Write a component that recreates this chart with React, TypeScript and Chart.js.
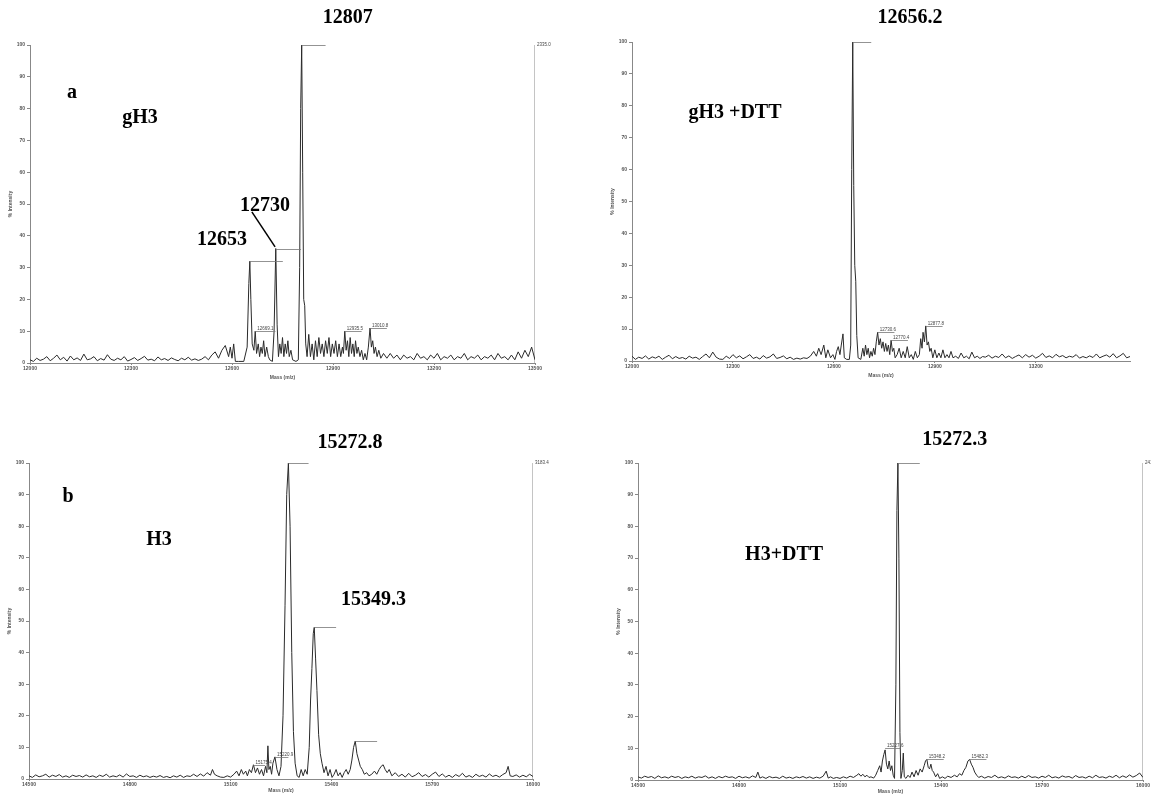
import React, { useEffect, useRef } from 'react';
import { Chart, registerables } from 'chart.js';

Chart.register(...registerables);

type Pt = [number, number];

// ---------- spectra (mass, % intensity) ----------
const spectrumA: Pt[] = [
  [12000,1],[12010,0.5],[12020,1.5],[12030,0.8],[12040,1.2],[12050,2],[12060,0.7],[12070,1.5],[12080,2.5],[12090,1],
  [12100,1.8],[12110,0.6],[12120,2.2],[12130,1],[12140,1.6],[12150,0.8],[12160,2.8],[12170,1],[12180,1.3],[12190,2],
  [12200,0.7],[12210,1.4],[12220,0.9],[12230,2.6],[12240,1.2],[12250,0.8],[12260,1.5],[12270,1],[12280,2],[12290,0.6],
  [12300,1.1],[12310,1.7],[12320,0.8],[12330,1.4],[12340,2.1],[12350,0.9],[12360,1.2],[12370,0.7],[12380,1.9],[12390,1],
  [12400,1.4],[12410,0.8],[12420,1.6],[12430,1.1],[12440,0.7],[12450,1.5],[12460,1],[12470,1.8],[12480,0.9],[12490,1.3],
  [12500,0.8],[12510,1.2],[12520,2],[12530,1],[12540,2.5],[12550,3.5],[12560,1.5],[12570,4],[12580,5.5],[12590,2],
  [12595,5],[12600,1.5],[12605,6],[12610,0.5],[12620,0.5],[12635,0.5],[12645,5],[12650,25],[12653,32],[12656,20],
  [12660,6],[12665,4],[12669,10],[12673,3],[12678,6],[12682,2],[12686,5],[12690,3],[12694,7],[12698,2],
  [12703,5],[12708,2],[12712,1],[12720,0.5],[12725,10],[12730,36],[12734,12],[12738,2],[12742,6],[12746,3],
  [12750,8],[12754,2],[12758,6],[12762,3],[12766,7],[12770,2],[12775,4],[12780,1],[12790,0.5],[12797,1],
  [12801,30],[12804,80],[12807,100],[12810,60],[12813,20],[12816,18],[12819,6],[12823,2],[12828,9],[12833,2],
  [12838,6],[12843,1],[12848,7],[12853,2],[12858,8],[12863,3],[12868,6],[12873,2],[12878,7],[12883,3],
  [12888,8],[12893,2],[12898,6],[12903,3],[12908,7],[12913,2],[12918,6],[12923,2],[12928,5],[12931,3],
  [12935,10],[12939,4],[12943,7],[12947,2],[12951,8],[12955,3],[12959,6],[12963,2],[12967,7],[12971,3],
  [12975,5],[12980,2],[12985,4],[12990,1],[12995,3],[13000,1],[13005,5],[13010,11],[13014,5],[13018,7],
  [13022,3],[13026,5],[13031,2],[13036,4],[13042,1.5],[13050,3],[13060,1.5],[13070,3],[13080,1.5],[13090,2.5],
  [13100,1],[13110,2.5],[13120,1.5],[13130,2],[13140,1],[13150,3],[13160,1.5],[13170,2],[13180,1],[13190,2.5],
  [13200,1.5],[13210,3],[13220,1],[13230,2],[13240,1.5],[13250,2.5],[13260,1],[13270,2],[13280,1.5],[13290,3],
  [13300,1],[13310,2],[13320,1.5],[13330,2.5],[13340,1],[13350,2],[13360,1.5],[13370,2.5],[13380,1],[13390,3],
  [13400,1.5],[13410,2],[13420,1],[13430,2.5],[13440,1],[13450,3.5],[13460,1.5],[13470,4],[13480,2],[13490,5],
  [13500,1],
];

const spectrumC: Pt[] = [
  [12000,1.5],[12010,0.5],[12020,1.2],[12030,0.8],[12040,1.6],[12050,0.6],[12060,1.3],[12070,0.9],[12080,1.5],[12090,0.5],
  [12100,1.2],[12110,1.8],[12120,0.7],[12130,1.4],[12140,0.8],[12150,1.1],[12160,0.6],[12170,1.5],[12180,0.9],[12190,1.2],
  [12200,0.5],[12210,1.4],[12220,2.2],[12230,1],[12240,2.8],[12250,1.2],[12260,0.6],[12270,0.5],[12280,1.5],[12290,0.8],
  [12300,2],[12310,1],[12320,1.6],[12330,0.7],[12340,1.3],[12350,2],[12360,0.8],[12370,1.2],[12380,0.6],[12390,1.7],
  [12400,0.9],[12410,1.3],[12420,2.2],[12430,0.8],[12440,1.1],[12450,1.6],[12460,0.7],[12470,1.2],[12480,0.5],[12490,0.9],
  [12500,0.6],[12510,1],[12520,0.8],[12530,1.5],[12540,3],[12548,1.5],[12555,4],[12562,2],[12570,5],[12576,1],
  [12582,3.5],[12590,1],[12597,2],[12603,0.5],[12608,3],[12613,4.5],[12618,2],[12622,5],[12627,8.5],[12631,1],
  [12638,0.5],[12646,0.5],[12650,5],[12653,60],[12656,100],[12659,55],[12662,30],[12665,25],[12668,8],[12672,1],
  [12680,0.5],[12686,4],[12690,1.5],[12694,5],[12698,2],[12702,4],[12706,1],[12710,3],[12714,1.5],[12718,4],
  [12722,2],[12726,6],[12730,9],[12734,5],[12738,7],[12742,4],[12746,6],[12750,3],[12754,5.5],[12758,3],
  [12762,5],[12766,2],[12770,6.5],[12774,3],[12778,4],[12782,1],[12788,2],[12794,4],[12800,1],[12806,3],
  [12812,1],[12818,4.5],[12824,1],[12830,2],[12836,0.5],[12842,3],[12848,1],[12854,2],[12858,7],[12862,4],
  [12865,9],[12869,6],[12873,11],[12877,5],[12881,6],[12885,3],[12889,4],[12894,1],[12900,3.5],[12906,1],
  [12912,2.5],[12918,1],[12924,3.5],[12930,1],[12936,2],[12942,1],[12948,3],[12954,1],[12962,1.5],[12970,0.8],
  [12978,2.5],[12986,1],[12994,1.5],[13002,0.7],[13010,2.8],[13018,1],[13026,1.5],[13034,0.8],[13042,1.4],[13050,1.2],
  [13060,1.8],[13070,0.9],[13080,1.5],[13090,1.1],[13100,2.2],[13110,1],[13120,1.6],[13130,0.8],[13140,1.4],[13150,1.9],
  [13160,1],[13170,2],[13180,1.2],[13190,1.8],[13200,0.9],[13210,1.5],[13220,2.4],[13230,1.1],[13240,1.6],[13250,1],
  [13260,2.1],[13270,1.3],[13280,1.7],[13290,1],[13300,1.5],[13310,1.2],[13320,2],[13330,0.9],[13340,1.4],[13350,1],
  [13360,1.6],[13370,1.1],[13380,2.2],[13390,1],[13400,1.5],[13410,1.9],[13420,1.2],[13430,2.3],[13440,1],[13450,1.6],
  [13460,2.4],[13470,1],[13480,1.4],
];

const spectrumB: Pt[] = [
  [14500,1],[14510,0.5],[14520,1.3],[14530,0.7],[14540,1],[14550,1.5],[14560,0.6],[14570,1.2],[14580,0.8],[14590,1.4],
  [14600,0.6],[14610,1],[14620,0.5],[14630,1.2],[14640,0.8],[14650,1.1],[14660,0.6],[14670,1.3],[14680,0.7],[14690,1],
  [14700,0.5],[14710,1.2],[14720,0.8],[14730,1.5],[14740,0.6],[14750,1],[14760,0.7],[14770,1.3],[14780,0.6],[14790,1.6],
  [14800,0.8],[14810,1],[14820,0.5],[14830,1.2],[14840,0.7],[14850,1],[14860,0.5],[14870,0.9],[14880,0.6],[14890,1.1],
  [14900,0.5],[14910,0.8],[14920,0.4],[14930,1],[14940,0.6],[14950,1.2],[14960,0.5],[14970,1],[14980,0.8],[14990,1.5],
  [15000,0.8],[15010,1.6],[15020,0.9],[15030,2],[15040,1.2],[15046,3],[15052,1.5],[15060,1],[15070,0.6],[15080,0.5],
  [15090,1],[15100,0.6],[15110,1.5],[15118,2.5],[15125,1],[15132,3],[15138,1.5],[15145,2.5],[15150,1],[15156,3],
  [15162,2],[15168,4.5],[15174,2],[15180,3.5],[15186,1.5],[15192,3],[15198,1],[15204,4],[15208,2],[15211,10.5],
  [15214,3],[15218,4],[15222,1.5],[15226,5],[15232,7],[15238,3],[15244,1],[15250,4],[15256,20],[15262,55],
  [15267,90],[15272,100],[15277,80],[15282,40],[15287,15],[15292,5],[15298,1],[15304,0.5],[15310,3],[15316,1],
  [15322,3],[15328,1.5],[15334,10],[15338,25],[15342,35],[15346,46],[15349,48],[15353,38],[15357,28],[15362,14],
  [15367,8],[15372,5],[15378,2],[15384,4],[15390,1],[15396,3],[15402,0.5],[15408,1.5],[15414,3],[15420,1],
  [15426,2],[15432,0.5],[15438,2],[15444,3],[15450,1.5],[15456,3],[15461,6],[15466,10],[15471,12],[15476,8],
  [15481,6],[15486,4],[15492,3],[15498,1.5],[15505,2],[15512,1],[15520,1.5],[15528,2.5],[15535,1.5],[15542,3],
  [15548,4],[15554,4.5],[15560,3],[15566,2],[15572,3],[15580,1],[15590,2],[15600,0.8],[15610,1.5],[15620,0.6],
  [15630,1.8],[15640,0.7],[15650,1.2],[15660,2],[15670,0.8],[15680,1.4],[15690,0.6],[15700,1.5],[15710,2.2],[15720,0.8],
  [15730,1.6],[15740,0.6],[15750,1.2],[15760,0.5],[15770,1.4],[15780,0.8],[15790,1.8],[15800,0.6],[15810,1.1],[15820,0.5],
  [15830,1.5],[15840,0.8],[15850,1.2],[15860,0.6],[15870,1.6],[15880,0.8],[15890,1.2],[15900,0.6],[15910,1.4],[15920,2],
  [15926,4],[15932,1],[15940,0.8],[15950,1.3],[15960,0.6],[15970,1.2],[15980,0.7],[15990,1.5],[16000,0.8],
];

const spectrumD: Pt[] = [
  [14500,1],[14510,0.6],[14520,1.2],[14530,0.8],[14540,1.1],[14550,0.5],[14560,1.3],[14570,0.7],[14580,1],[14590,0.6],
  [14600,1.2],[14610,0.8],[14620,1.1],[14630,0.5],[14640,1],[14650,0.7],[14660,1.2],[14670,0.6],[14680,1],[14690,0.8],
  [14700,1.3],[14710,0.6],[14720,1],[14730,0.5],[14740,1.1],[14750,0.7],[14760,1.2],[14770,0.8],[14780,1],[14790,0.5],
  [14800,1.2],[14810,0.7],[14820,1],[14830,0.6],[14840,1.3],[14850,0.8],[14856,2.5],[14862,0.6],[14870,1],[14880,0.5],
  [14890,1.1],[14900,0.7],[14910,0.9],[14920,0.5],[14930,1.2],[14940,0.6],[14950,0.9],[14960,0.5],[14970,1],[14980,0.7],
  [14990,1.1],[15000,0.6],[15010,1],[15020,0.5],[15030,0.9],[15040,0.6],[15050,1.2],[15059,2.8],[15065,0.6],[15072,1],
  [15080,0.5],[15090,0.8],[15100,0.5],[15110,1],[15120,0.6],[15130,1.2],[15140,0.8],[15150,1.5],[15156,2],[15162,1.2],
  [15168,1.8],[15174,1],[15180,1.5],[15186,0.8],[15192,1],[15200,0.6],[15206,1.5],[15212,3],[15218,4.5],[15222,2.5],
  [15226,6],[15230,8],[15234,9.5],[15238,5],[15242,3.5],[15246,6],[15250,3],[15254,4.5],[15258,1.5],[15262,0.5],
  [15266,30],[15269,85],[15272,100],[15275,70],[15278,15],[15281,0.5],[15285,3],[15288,8.5],[15291,1],[15296,0.5],
  [15302,1.5],[15308,0.8],[15314,2.5],[15320,1],[15326,3],[15332,1.5],[15338,3.5],[15344,2.5],[15350,4.5],[15354,6],
  [15358,6.5],[15362,4],[15366,3.5],[15370,5],[15374,3],[15378,2.5],[15384,1],[15390,2],[15396,0.5],[15404,1],
  [15412,0.5],[15420,1.2],[15430,0.8],[15440,1.5],[15448,1],[15455,2],[15462,1.5],[15468,3],[15474,4],[15480,6],
  [15485,6.5],[15490,5],[15495,4],[15500,2.5],[15506,1.5],[15512,0.8],[15520,1.2],[15530,0.6],[15540,1.1],[15550,0.8],
  [15560,1.5],[15570,0.7],[15580,1],[15590,0.6],[15600,1.3],[15610,0.8],[15620,1],[15630,0.6],[15640,1.2],[15650,0.7],
  [15660,1.4],[15670,0.8],[15680,1],[15690,0.6],[15700,1.2],[15710,0.8],[15720,1.5],[15730,0.7],[15740,1],[15750,0.6],
  [15760,1.3],[15770,0.9],[15780,1.1],[15790,0.6],[15800,1.4],[15810,0.8],[15820,1],[15830,0.6],[15840,1.2],[15850,0.7],
  [15860,1.5],[15870,0.8],[15880,1],[15890,0.6],[15900,1.2],[15910,0.8],[15920,1.5],[15930,0.7],[15940,1.3],[15950,0.8],
  [15960,1.6],[15970,0.9],[15980,1.4],[15990,2.2],[16000,0.8],
];

// ---------- axis ranges and tick labels ----------
const rangeA: Pt = [12000, 13500];
const rangeC: Pt = [12000, 13480];
const rangeB: Pt = [14500, 16000];
const rangeD: Pt = [14500, 16000];
const ticksA = [12000, 12300, 12600, 12900, 13200, 13500];
const ticksC = [12000, 12300, 12600, 12900, 13200];
const ticksB = [14500, 14800, 15100, 15400, 15700, 16000];
const ticksD = [14500, 14800, 15100, 15400, 15700, 16000];
const intensityTicks = [0, 10, 20, 30, 40, 50, 60, 70, 80, 90, 100];

// ---------- full-scale marker lines (mass, label) ----------
const markerA: [number, string] = [13500, '2335.0'];
const markerB: [number, string] = [16000, '3183.4'];
const markerD: [number, string] = [16000, '2412.7'];

// ---------- big bold labels: text, mass anchor, intensity anchor ----------
type Lbl = [string, number, number];
const labelsA: Lbl[] = [['12807', 12944, 108.5], ['a', 12125, 85], ['gH3', 12327, 77], ['12730', 12698, 49.4], ['12653', 12570, 38.7]];
const labelsC: Lbl[] = [['12656.2', 12826, 107.5], ['gH3 +DTT', 12306, 77.7]];
const labelsB: Lbl[] = [['15272.8', 15455, 106.3], ['b', 14616, 89.2], ['H3', 14887, 75.6], ['15349.3', 15525, 56.6]];
const labelsD: Lbl[] = [['15272.3', 15441, 107.3], ['H3+DTT', 14934, 71]];

// ---------- peak brackets: mass, intensity, bracket length (Da), small label ----------
type Br = [number, number, number, string];
const bracketsA: Br[] = [[12653, 32, 98, ''], [12730, 36, 75, ''], [12807, 100, 71, ''], [12669, 10, 60, '12669.1'], [12935, 10, 50, '12935.5'], [13010, 11, 50, '13010.8']];
const bracketsC: Br[] = [[12656, 100, 55, ''], [12730, 9, 50, '12730.6'], [12770, 6.5, 50, '12770.4'], [12873, 11, 50, '12877.8']];
const bracketsB: Br[] = [[15272, 100, 60, ''], [15349, 48, 65, ''], [15471, 12, 65, ''], [15168, 4.5, 35, '15175.4'], [15232, 7, 40, '15220.9']];
const bracketsD: Br[] = [[15272, 100, 65, ''], [15234, 10, 45, '15227.6'], [15358, 6.5, 50, '15348.2'], [15485, 6.5, 50, '15482.3']];

// connector from "12730" label to its peak
const connectorsA: [number, number, number, number][] = [[12659, 47.5, 12728, 36.5]];

const annotPlugin = {
  id: 'annot',
  afterDraw(chart: any, _a: any, opts: any) {
    const { ctx } = chart;
    const x = chart.scales.x;
    const y = chart.scales.y;
    ctx.save();
    for (const b of (opts.brackets || []) as Br[]) {
      const [m, h, dx, label] = b;
      const px = x.getPixelForValue(m);
      const px2 = x.getPixelForValue(m + dx);
      const py = Math.round(y.getPixelForValue(h)) + 0.5;
      ctx.strokeStyle = '#777';
      ctx.lineWidth = 0.8;
      ctx.beginPath();
      ctx.moveTo(px, py);
      ctx.lineTo(px2, py);
      ctx.stroke();
      if (label) {
        ctx.font = '4.5px "Liberation Sans", sans-serif';
        ctx.fillStyle = '#444';
        ctx.textAlign = 'left';
        ctx.textBaseline = 'bottom';
        ctx.fillText(label, px + 2, py - 0.5);
      }
    }
    for (const c of opts.connectors || []) {
      ctx.strokeStyle = '#000';
      ctx.lineWidth = 1.5;
      ctx.beginPath();
      ctx.moveTo(x.getPixelForValue(c[0]), y.getPixelForValue(c[1]));
      ctx.lineTo(x.getPixelForValue(c[2]), y.getPixelForValue(c[3]));
      ctx.stroke();
    }
    if (opts.marker) {
      ctx.font = '4.5px "Liberation Sans", sans-serif';
      ctx.fillStyle = '#444';
      ctx.textAlign = 'left';
      ctx.textBaseline = 'middle';
      ctx.fillText(opts.marker[1], x.getPixelForValue(opts.marker[0]) + 2, y.getPixelForValue(100));
    }
    for (const l of (opts.labels || []) as Lbl[]) {
      ctx.font = 'bold 20px "Liberation Serif", "Times New Roman", serif';
      ctx.fillStyle = '#000';
      ctx.textAlign = 'center';
      ctx.textBaseline = 'middle';
      ctx.fillText(l[0], x.getPixelForValue(l[1]), y.getPixelForValue(l[2]));
    }
    ctx.restore();
  },
};

type PanelProps = {
  left: number; top: number; w: number; h: number;
  pad: { left: number; top: number; right: number; bottom: number };
  xAxisH: number;
  spectrum: Pt[];
  range: Pt;
  xTicks: number[];
  marker?: [number, string];
  labels: Lbl[];
  brackets: Br[];
  connectors?: [number, number, number, number][];
};

function Panel(p: PanelProps) {
  const ref = useRef<HTMLCanvasElement>(null);
  useEffect(() => {
    if (!ref.current) return;
    const datasets: any[] = [
      {
        data: p.spectrum.map(([m, v]) => ({ x: m, y: v })),
        borderColor: '#2a2a2a',
        borderWidth: 1,
        pointRadius: 0,
        tension: 0,
        fill: false,
      },
    ];
    if (p.marker) {
      datasets.push({
        data: [{ x: p.marker[0], y: 0 }, { x: p.marker[0], y: 100 }],
        borderColor: '#888',
        borderWidth: 1,
        pointRadius: 0,
        fill: false,
      });
    }
    const tickFont = { size: 5, family: '"Liberation Sans", sans-serif', weight: 'bold' as const };
    const chart = new Chart(ref.current, {
      type: 'line',
      data: { datasets },
      plugins: [annotPlugin],
      options: {
        animation: false,
        responsive: false,
        devicePixelRatio: 1,
        events: [],
        layout: { padding: p.pad },
        plugins: {
          legend: { display: false },
          tooltip: { enabled: false },
          // @ts-ignore
          annot: { labels: p.labels, brackets: p.brackets, connectors: p.connectors || [], marker: p.marker },
        },
        scales: {
          x: {
            type: 'linear',
            min: p.range[0],
            max: p.range[1],
            afterFit: (s: any) => { s.height = p.xAxisH; },
            afterBuildTicks: (s: any) => { s.ticks = p.xTicks.map((v) => ({ value: v })); },
            border: { display: true, color: '#888', width: 1 },
            grid: { display: true, drawOnChartArea: false, drawTicks: true, tickLength: 2, color: '#888' },
            ticks: {
              autoSkip: false,
              maxRotation: 0,
              padding: 1,
              color: '#555',
              font: tickFont,
              callback: (v: any) => String(v),
            },
            title: { display: true, text: 'Mass (m/z)', color: '#555', font: tickFont, padding: 0 },
          },
          y: {
            min: 0,
            max: 100,
            afterFit: (s: any) => { s.width = 22; },
            afterBuildTicks: (s: any) => { s.ticks = intensityTicks.map((v) => ({ value: v })); },
            border: { display: true, color: '#888', width: 1 },
            grid: { display: true, drawOnChartArea: false, drawTicks: true, tickLength: 3, color: '#888' },
            ticks: { padding: 2, color: '#555', font: tickFont },
            title: { display: true, text: '% Intensity', color: '#555', font: tickFont, padding: 0 },
          },
        },
      },
    });
    return () => chart.destroy();
  }, []);
  return (
    <canvas
      ref={ref}
      width={p.w}
      height={p.h}
      style={{ position: 'absolute', left: p.left, top: p.top, width: p.w, height: p.h }}
    />
  );
}

export default function App() {
  return (
    <div style={{ position: 'absolute', left: 0, top: 0, width: 1151, height: 796, background: '#fff', overflow: 'hidden' }}>
      <Panel left={0} top={0} w={576} h={395} pad={{ left: 8, top: 45, right: 41, bottom: 14 }} xAxisH={18}
        spectrum={spectrumA} range={rangeA} xTicks={ticksA} marker={markerA} labels={labelsA} brackets={bracketsA} connectors={connectorsA} />
      <Panel left={576} top={0} w={575} h={395} pad={{ left: 34, top: 42, right: 21, bottom: 16 }} xAxisH={18}
        spectrum={spectrumC} range={rangeC} xTicks={ticksC} labels={labelsC} brackets={bracketsC} />
      <Panel left={0} top={398} w={576} h={398} pad={{ left: 7, top: 65, right: 43, bottom: 2 }} xAxisH={15}
        spectrum={spectrumB} range={rangeB} xTicks={ticksB} marker={markerB} labels={labelsB} brackets={bracketsB} />
      <Panel left={576} top={398} w={575} h={398} pad={{ left: 40, top: 65, right: 8, bottom: 1 }} xAxisH={15}
        spectrum={spectrumD} range={rangeD} xTicks={ticksD} marker={markerD} labels={labelsD} brackets={bracketsD} />
    </div>
  );
}
